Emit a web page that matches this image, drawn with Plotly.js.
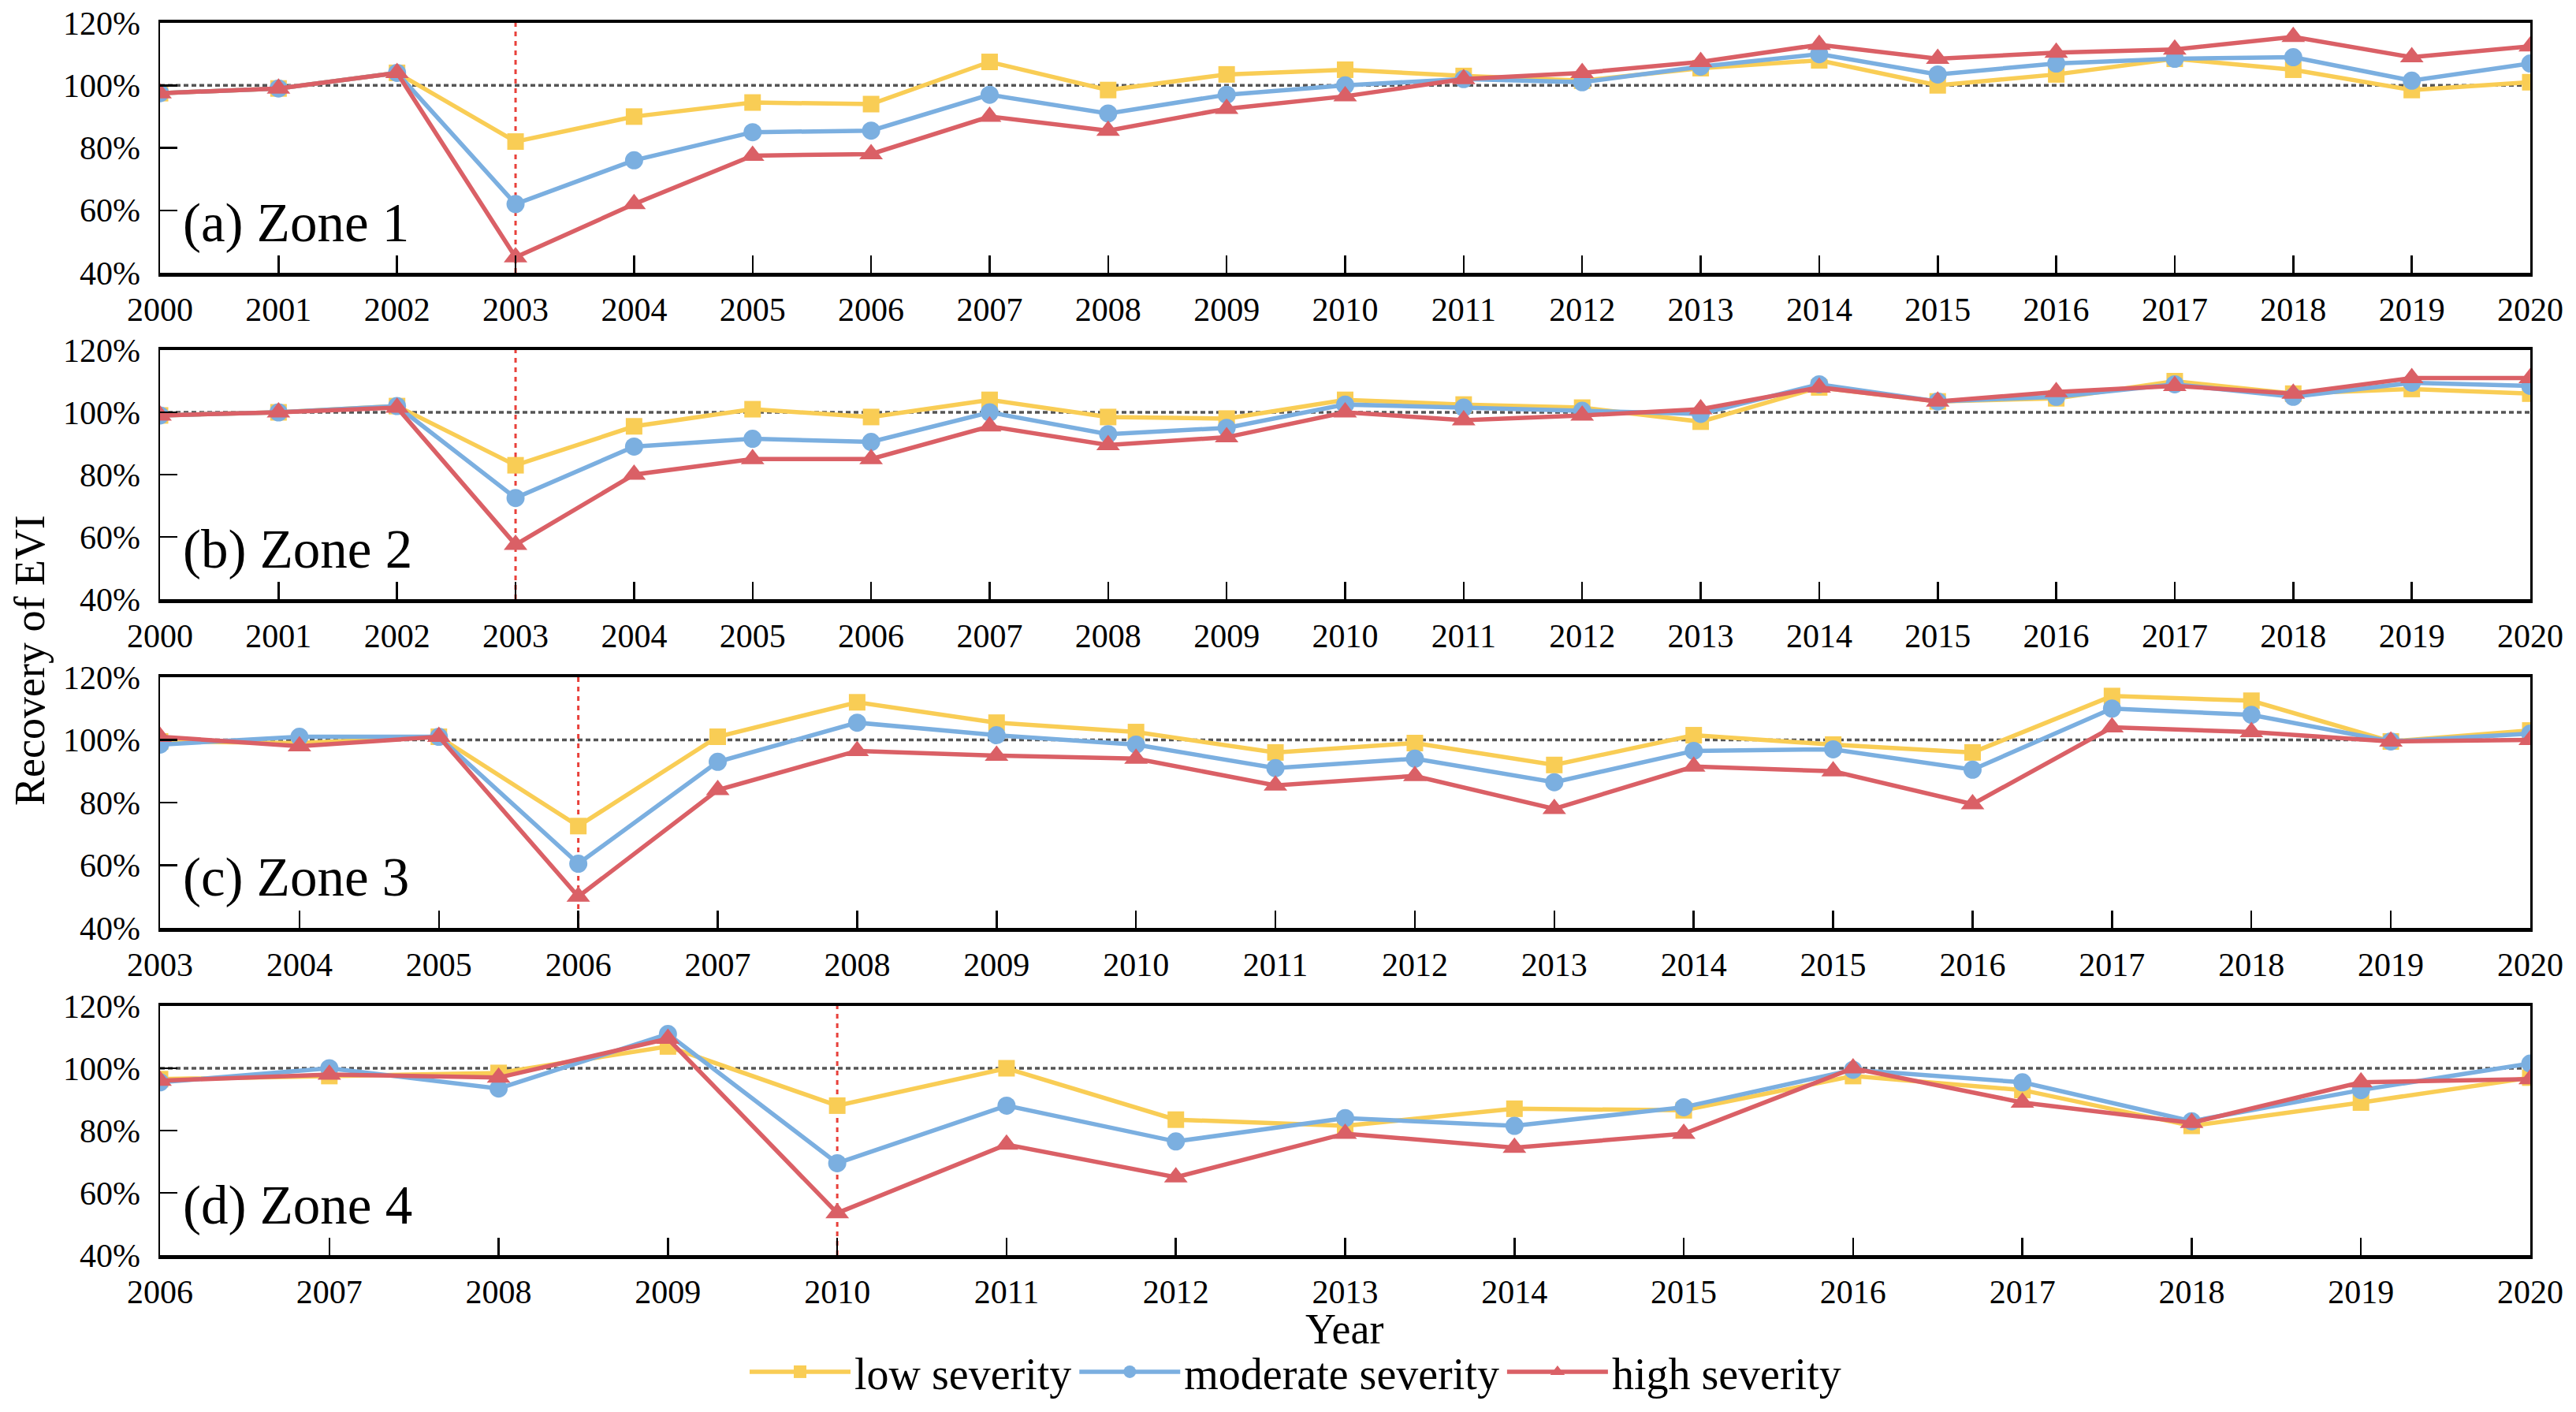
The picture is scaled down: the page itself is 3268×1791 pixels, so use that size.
<!DOCTYPE html>
<html>
<head>
<meta charset="utf-8">
<script src="https://cdn.plot.ly/plotly-3.0.1.min.js"></script>
<style>html,body{margin:0;padding:0;background:#fff;}</style>
</head>
<body>
<div id="chart" style="width:3268px;height:1791px;"></div>
<script>
// ---------- data ----------
const years12 = [2000,2001,2002,2003,2004,2005,2006,2007,2008,2009,2010,2011,2012,2013,2014,2015,2016,2017,2018,2019,2020];
const years3 = [2003,2004,2005,2006,2007,2008,2009,2010,2011,2012,2013,2014,2015,2016,2017,2018,2019,2020];
const years4 = [2006,2007,2008,2009,2010,2011,2012,2013,2014,2015,2016,2017,2018,2019,2020];

const zone1Low  = [97.5,99,104,82,90,94.5,94,107.5,98.5,103.5,105,103,101.5,105.5,108,100,103.5,108.5,105,98.5,101];
const zone1Mod  = [97.5,99,104,62,76,85,85.5,97,91,97,100,102,101,106,110,103.5,107,108.5,109,101.5,107];
const zone1High = [97.5,99,104,45,62,77.5,78,90,85.5,92.5,96.5,102,104,107.5,113,108.5,110.5,111.5,115.5,109,112.5];

const zone2Low  = [99,100,102,83,95.5,101,98.5,104,98.5,98,104,102.5,101.5,97,108,103.5,104.5,110,106,107.5,106];
const zone2Mod  = [99,100,102,72.5,89,91.5,90.5,100,93,95,102.5,101.5,100.5,99.5,109,103.5,105,109,105,109.5,108.5];
const zone2High = [99,100,101.5,57.5,80,85,85,95.5,89.5,92,100,97.5,99,101,108,103.5,106.5,108.5,106,111,111];

const zone3Low  = [99.5,99,101,72.5,101,112,105.5,102.5,96,99,92,101.5,98.5,96,114,112.5,99.5,103];
const zone3Mod  = [98.5,101,101,60.5,93,105.5,101.5,98.5,91,94,86.5,96.5,97,90.5,110,108,99.5,102];
const zone3High = [101,98,101,50,84,96.5,95,94,85.5,88.5,78,91.5,90,79.5,104,102.5,99.5,100];

const zone4Low  = [96.5,97.5,98.5,107,88,100,83.5,81.5,87,86.5,97.5,93,81.5,89,97];
const zone4Mod  = [95.5,100,93.5,111,69.5,88,76.5,84,81.5,87.5,99.5,95.5,83,93,101.5];
const zone4High = [96,98,97,109.5,53.5,75.5,65,79,74.5,79,100,89,82.5,95.5,96.5];

const zoneLabels = ['(a) Zone 1','(b) Zone 2','(c) Zone 3','(d) Zone 4'];
const droughtYears = [2003, 2003, 2006, 2010];
const seriesNames = ['low severity','moderate severity','high severity'];
const yTickVals = [40,60,80,100,120];
const yTickText = ['40%','60%','80%','100%','120%'];

// ---------- styling ----------
const colors = ['#F9CD55','#7BAFE0','#DA6066'];
const symbols = ['square','circle','triangle-up'];
const msizes = [21,23,26];
const FONT = '"Liberation Serif"';

const zones = [
  {x: years12, s: [zone1Low, zone1Mod, zone1High]},
  {x: years12, s: [zone2Low, zone2Mod, zone2High]},
  {x: years3,  s: [zone3Low, zone3Mod, zone3High]},
  {x: years4,  s: [zone4Low, zone4Mod, zone4High]}
];

const W = 3268, H = 1791;
const xDom = [203/W, 3210/W];
const yPix = [[29,346],[444,760],[859,1177],[1276,1592]];

const traces = [];
const layout = {
  width: W, height: H,
  margin: {l:0, r:0, t:0, b:0},
  paper_bgcolor: '#fff', plot_bgcolor: '#fff',
  font: {family: FONT, size: 42, color: '#000'},
  showlegend: true,
  legend: {orientation: 'h', x: 946/W, xanchor: 'left', y: 1 - 1740/H, yanchor: 'middle',
           font: {family: FONT, size: 56, color: '#000'}, bgcolor: 'rgba(0,0,0,0)', itemwidth: 128},
  shapes: [], annotations: []
};

zones.forEach((z, i) => {
  const n = i + 1;
  const xa = 'x' + (n === 1 ? '' : n);
  const ya = 'y' + (n === 1 ? '' : n);
  z.s.forEach((vals, k) => {
    traces.push({
      x: z.x, y: vals, type: 'scatter', mode: 'lines+markers',
      name: seriesNames[k], legendgroup: seriesNames[k], showlegend: i === 0,
      xaxis: xa, yaxis: ya,
      line: {color: colors[k], width: 5.5},
      marker: {symbol: symbols[k], size: msizes[k], color: colors[k]}
    });
  });
  const xr = [z.x[0], z.x[z.x.length - 1]];
  layout['xaxis' + (n === 1 ? '' : n)] = {
    domain: xDom, range: xr, anchor: ya,
    tickmode: 'array', tickvals: z.x, ticktext: z.x.map(String),
    ticks: 'inside', ticklen: 22, tickwidth: 2.5, tickcolor: '#000',
    showline: true, linewidth: 4.5, linecolor: '#000', mirror: true,
    showgrid: false, zeroline: false,
    tickfont: {family: FONT, size: 42, color: '#000'}, ticklabelstandoff: 6
  };
  layout['yaxis' + (n === 1 ? '' : n)] = {
    domain: [1 - yPix[i][1]/H, 1 - yPix[i][0]/H], range: [40, 120], anchor: xa,
    tickmode: 'array', tickvals: yTickVals, ticktext: yTickText,
    ticks: 'inside', ticklen: 22, tickwidth: 2.5, tickcolor: '#000',
    showline: true, linewidth: 2.5, linecolor: '#000', mirror: true,
    showgrid: false, zeroline: false,
    tickfont: {family: FONT, size: 42, color: '#000'}, ticklabelstandoff: 14
  };
  layout.shapes.push({type: 'line', xref: xa, yref: ya, x0: xr[0], x1: xr[1], y0: 100, y1: 100,
    layer: 'below', line: {color: '#555', width: 3.5, dash: '6px,4px'}});
  layout.shapes.push({type: 'line', xref: xa, yref: ya, x0: droughtYears[i], x1: droughtYears[i], y0: 40, y1: 120,
    layer: 'below', line: {color: '#E8403A', width: 3, dash: '6px,6px'}});
  layout.annotations.push({text: zoneLabels[i], xref: xa + ' domain', yref: ya + ' domain',
    x: 0.009, y: 0.2, xanchor: 'left', yanchor: 'middle', showarrow: false,
    font: {family: FONT, size: 69, color: '#000'}});
});

layout.annotations.push({text: 'Recovery of EVI', xref: 'paper', yref: 'paper', x: 38/W, y: 1 - 838/H,
  textangle: -90, showarrow: false, xanchor: 'center', yanchor: 'middle', font: {family: FONT, size: 54, color: '#000'}});
layout.annotations.push({text: 'Year', xref: 'paper', yref: 'paper', x: 1706/W, y: 1 - 1686/H,
  showarrow: false, xanchor: 'center', yanchor: 'middle', font: {family: FONT, size: 54, color: '#000'}});

Plotly.newPlot('chart', traces, layout, {displayModeBar: false, staticPlot: true});
</script>
</body>
</html>
